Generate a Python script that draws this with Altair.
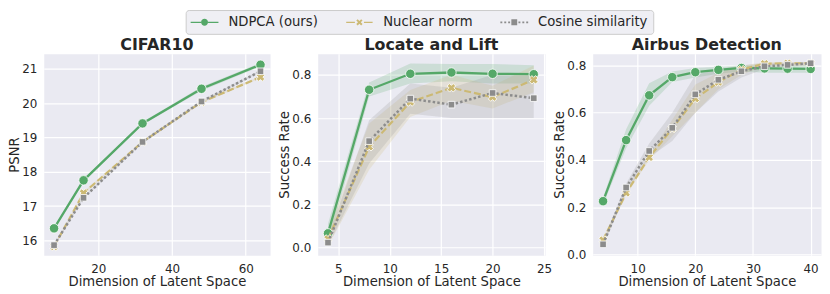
import altair as alt
import pandas as pd

FONT = "DejaVu Sans"
TXT = "#262626"

SERIES = ["NDPCA (ours)", "Nuclear norm", "Cosine similarity"]
COLORS = ["#55A868", "#CCB974", "#8C8C8C"]

# legend glyphs (line + marker), unit = sqrt(size)/2 px
LEGEND_PATHS = [
    "M-1,-0.09H0.5V0.09H-1Z M1.5,-0.09H3V0.09H1.5Z M1.5,0A0.5,0.5,0,1,1,0.5,0A0.5,0.5,0,1,1,1.5,0Z",
    "M-0.9,-0.09H0.35V0.09H-0.9Z M1.65,-0.09H2.9V0.09H1.65Z M0.55,-0.25L0.75,-0.45L1,-0.2L1.25,-0.45L1.45,-0.25L1.2,0L1.45,0.25L1.25,0.45L1,0.2L0.75,0.45L0.55,0.25L0.8,0Z",
    "M-1,-0.13H-0.72V0.13H-1Z M-0.44,-0.13H-0.16V0.13H-0.44Z M0.12,-0.13H0.4V0.13H0.12Z M0.58,-0.42H1.42V0.42H0.58Z M1.6,-0.13H1.88V0.13H1.6Z M2.16,-0.13H2.44V0.13H2.16Z M2.72,-0.13H3V0.13H2.72Z",
]

# ---- CIFAR10 ----
cifar_x = [8, 16, 32, 48, 64]
cifar_ndpca = [16.35, 17.75, 19.41, 20.42, 21.12]
cifar_ndpca_lo = [16.31, 17.71, 19.37, 20.36, 21.07]
cifar_ndpca_hi = [16.39, 17.79, 19.45, 20.48, 21.17]
cifar_nuclear = [15.82, 17.38, 18.87, 20.03, 20.76]
cifar_nuclear_lo = [15.79, 17.34, 18.84, 20.00, 20.73]
cifar_nuclear_hi = [15.85, 17.42, 18.90, 20.06, 20.79]
cifar_cosine = [15.86, 17.24, 18.87, 20.05, 20.93]
cifar_cosine_lo = [15.83, 17.21, 18.84, 20.02, 20.90]
cifar_cosine_hi = [15.89, 17.27, 18.90, 20.08, 20.96]

# ---- Locate and Lift ----
lift_x = [4, 8, 12, 16, 20, 24]
lift_ndpca = [0.066, 0.731, 0.805, 0.811, 0.805, 0.803]
lift_ndpca_lo = [0.02, 0.70, 0.76, 0.77, 0.76, 0.76]
lift_ndpca_hi = [0.11, 0.765, 0.853, 0.85, 0.85, 0.845]
lift_nuclear = [0.04, 0.467, 0.674, 0.74, 0.697, 0.777]
lift_nuclear_lo = [0.005, 0.36, 0.605, 0.68, 0.644, 0.72]
lift_nuclear_hi = [0.08, 0.575, 0.73, 0.80, 0.75, 0.843]
lift_cosine = [0.023, 0.493, 0.69, 0.662, 0.716, 0.692]
lift_cosine_lo = [0.007, 0.39, 0.62, 0.60, 0.60, 0.60]
lift_cosine_hi = [0.045, 0.59, 0.76, 0.74, 0.80, 0.80]

# ---- Airbus Detection ----
air_x = [4, 8, 12, 16, 20, 24, 28, 32, 36, 40]
air_ndpca = [0.225, 0.484, 0.674, 0.751, 0.772, 0.782, 0.79, 0.788, 0.787, 0.786]
air_ndpca_lo = [0.21, 0.45, 0.63, 0.73, 0.75, 0.765, 0.775, 0.77, 0.77, 0.77]
air_ndpca_hi = [0.24, 0.53, 0.725, 0.775, 0.79, 0.795, 0.80, 0.80, 0.80, 0.80]
air_nuclear = [0.06, 0.26, 0.411, 0.533, 0.66, 0.73, 0.783, 0.808, 0.81, 0.81]
air_nuclear_lo = [0.05, 0.25, 0.40, 0.50, 0.60, 0.70, 0.76, 0.80, 0.80, 0.80]
air_nuclear_hi = [0.07, 0.27, 0.42, 0.57, 0.72, 0.77, 0.80, 0.815, 0.815, 0.815]
air_cosine = [0.042, 0.283, 0.438, 0.536, 0.678, 0.74, 0.776, 0.797, 0.803, 0.81]
air_cosine_lo = [0.035, 0.26, 0.41, 0.48, 0.60, 0.69, 0.75, 0.785, 0.795, 0.80]
air_cosine_hi = [0.05, 0.30, 0.47, 0.60, 0.76, 0.785, 0.80, 0.81, 0.812, 0.815]

XTITLE = "Dimension of Latent Space"

MARKERS = [
    dict(shape="circle", size=90),
    dict(shape="cross", size=75, angle=45),
    dict(shape="square", size=44),
]
LINES = [
    dict(strokeWidth=2.3),
    dict(strokeWidth=2.2, strokeDash=[7, 3]),
    dict(strokeWidth=2.5, strokeDash=[2.5, 2.2]),
]

BG = "#EAEAF2"


def panel(title, xs, data, xdom, ydom, xticks, yticks, yfmt, ytitle, width, with_legend=False):
    xaxis = alt.Axis(values=xticks, format="d", title=XTITLE)
    yaxis = alt.Axis(values=yticks, format=yfmt, title=ytitle)
    xs_enc = alt.X("x:Q", scale=alt.Scale(domain=xdom, nice=False, zero=False), axis=xaxis, title=XTITLE)
    ysc = alt.Scale(domain=ydom, nice=False, zero=False)
    bands, fg = [], []
    for i, (ys, lo, hi) in enumerate(data):
        df = pd.DataFrame({"x": xs, "y": ys, "lo": lo, "hi": hi, "series": SERIES[i]})
        base = alt.Chart(df)
        bands.append(
            base.mark_area(color=COLORS[i], opacity=0.2).encode(
                x=xs_enc,
                y=alt.Y("lo:Q", scale=ysc, axis=yaxis, title=ytitle),
                y2="hi:Q",
            )
        )
        fg.append(
            base.mark_line(color=COLORS[i], **LINES[i]).encode(
                x=xs_enc, y=alt.Y("y:Q", scale=ysc, axis=yaxis, title=ytitle)
            )
        )
        fg.append(
            base.mark_point(
                filled=True, fill=COLORS[i], stroke="white", strokeWidth=0.8, opacity=1, **MARKERS[i]
            ).encode(x=xs_enc, y=alt.Y("y:Q", scale=ysc, axis=yaxis, title=ytitle))
        )
    layers = bands + fg
    if with_legend:
        leg = alt.Legend(
            orient="none", legendX=143, legendY=-44, direction="horizontal", title=None,
            labelFontSize=13.3, labelFont=FONT, labelColor=TXT, symbolSize=196,
            symbolStrokeWidth=0, symbolOpacity=1, labelOffset=24, columnPadding=27,
            padding=5, fillColor="#EFEFF4", strokeColor="#CCCCCC", cornerRadius=3,
        )
        legend_df = pd.DataFrame({"series": SERIES, "x": [xs[0]] * 3, "y": [data[0][0][0]] * 3})
        layers.append(
            alt.Chart(legend_df)
            .transform_filter("false")
            .mark_point(filled=True, opacity=1)
            .encode(
                x=xs_enc,
                y=alt.Y("y:Q", scale=ysc, axis=yaxis, title=ytitle),
                color=alt.Color("series:N", scale=alt.Scale(domain=SERIES, range=COLORS), legend=leg),
                shape=alt.Shape("series:N", scale=alt.Scale(domain=SERIES, range=LEGEND_PATHS), legend=leg),
            )
        )
    return alt.layer(*layers).properties(
        width=width, height=203, title=alt.TitleParams(title),
        view=alt.ViewBackground(fill=BG, stroke="transparent"),
    )


p1 = panel(
    "CIFAR10", cifar_x,
    [(cifar_ndpca, cifar_ndpca_lo, cifar_ndpca_hi),
     (cifar_nuclear, cifar_nuclear_lo, cifar_nuclear_hi),
     (cifar_cosine, cifar_cosine_lo, cifar_cosine_hi)],
    [5.2, 66.6], [15.566, 21.443], [20, 40, 60], [16, 17, 18, 19, 20, 21], "d", "PSNR", 228,
    with_legend=True,
)
p2 = panel(
    "Locate and Lift", lift_x,
    [(lift_ndpca, lift_ndpca_lo, lift_ndpca_hi),
     (lift_nuclear, lift_nuclear_lo, lift_nuclear_hi),
     (lift_cosine, lift_cosine_lo, lift_cosine_hi)],
    [3.0, 25.1], [-0.0354, 0.898], [5, 10, 15, 20, 25], [0.0, 0.2, 0.4, 0.6, 0.8], ".1f", "Success Rate", 229,
)
p3 = panel(
    "Airbus Detection", air_x,
    [(air_ndpca, air_ndpca_lo, air_ndpca_hi),
     (air_nuclear, air_nuclear_lo, air_nuclear_hi),
     (air_cosine, air_cosine_lo, air_cosine_hi)],
    [2.2, 41.8], [-0.0042, 0.8505], [10, 20, 30, 40], [0.0, 0.2, 0.4, 0.6, 0.8], ".1f", "Success Rate", 230,
)

chart = (
    alt.hconcat(p1, p2, p3, spacing=48, bounds="flush",
                padding={"left": -2, "top": 0, "right": 0, "bottom": 0})
    .configure_view(fill=BG, stroke="transparent")
    .configure_axis(
        grid=True, gridColor="white", gridWidth=1.2, domain=False, ticks=False,
        labelFont=FONT, labelFontSize=12, labelColor=TXT, labelFlush=False, labelOverlap=False,
        titleFont=FONT, titleFontSize=13.3, titleColor=TXT, titleFontWeight="normal",
    )
    .configure_axisX(labelPadding=8, titlePadding=1)
    .configure_axisY(labelPadding=7, titlePadding=0.5)
    .configure_title(font=FONT, fontSize=16, fontWeight="bold", color=TXT, offset=1, anchor="middle")
)

chart.save("out.html", embed_options={"renderer": "svg", "actions": False})
